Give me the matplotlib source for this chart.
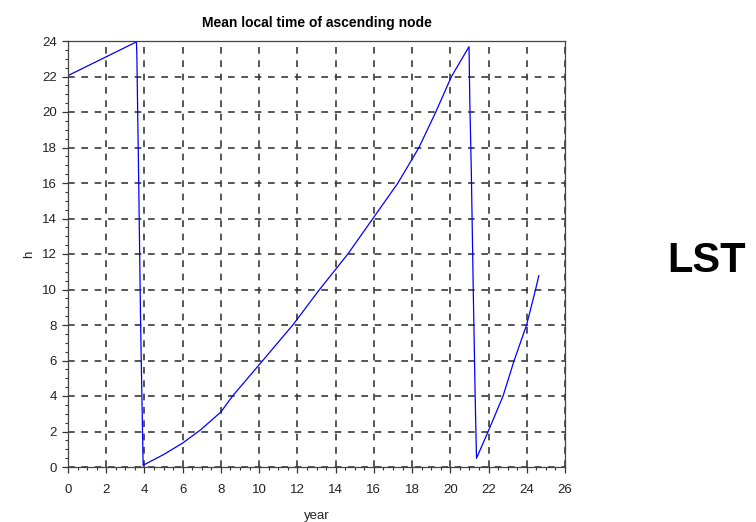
import numpy as np
import matplotlib
matplotlib.use("Agg")
from matplotlib import pyplot as plt
from matplotlib.ticker import MultipleLocator

# values (year, local time in hours)
year = [0.0, 3.58, 3.60, 3.70, 3.80, 3.93,
        5.0, 6.0, 6.92, 8.0, 8.61, 10.19, 11.76, 13.16, 14.64, 15.95,
        17.26, 18.36, 19.24, 20.06, 20.98,
        21.02, 21.10, 21.20, 21.30, 21.37,
        21.98, 22.76, 23.34, 23.99, 24.46, 24.63]
hours = [22.05, 23.95, 23.3, 16.0, 8.0, 0.1,
         0.7, 1.35, 2.08, 3.1, 4.0, 6.0, 8.0, 10.0, 12.0, 14.0,
         16.0, 18.0, 20.0, 22.0, 23.68,
         20.6, 16.6, 10.0, 4.0, 0.49,
         2.0, 4.0, 6.0, 8.0, 10.0, 10.78]

x_ticks = np.arange(0, 27, 2)
y_ticks = np.arange(0, 25, 2)

plt.rcParams['font.family'] = ['Liberation Sans', 'DejaVu Sans']

fig = plt.figure(figsize=(7.56, 5.22), dpi=100)
ax = fig.add_axes([68 / 756, 1 - 467 / 522, (565 - 68) / 756, (467 - 41) / 522])

ax.plot(year, hours, color='#0000ff', linewidth=0.9)

ax.set_xlim(0, 26)
ax.set_ylim(0, 24)
ax.set_xticks(x_ticks)
ax.set_yticks(y_ticks)
ax.xaxis.set_minor_locator(MultipleLocator(0.5))
ax.yaxis.set_minor_locator(MultipleLocator(0.5))
ax.tick_params(which='major', direction='out', length=4, width=0.9,
               color='#333333', labelsize=9.5, labelcolor='#222222', pad=4)
ax.tick_params(which='minor', direction='out', length=2.2, width=0.8,
               color='#333333')
ax.tick_params(axis='x', which='major', pad=8)

ax.grid(True, which='major', color='#3a3a3a', linestyle=(0, (4, 4)),
        linewidth=1.2)
ax.set_axisbelow(True)
for s in ax.spines.values():
    s.set_color('#444444')
    s.set_linewidth(0.9)

ax.set_title("Mean local time of ascending node", fontsize=10,
             fontweight='bold', pad=10)
ax.set_xlabel("year", fontsize=9.5, labelpad=10, color='#222222')
ax.set_ylabel("h", fontsize=9.5, labelpad=5, color='#222222')

fig.text(707 / 756, 1 - 261 / 522, "LST", fontsize=30, fontweight='bold',
         ha='center', va='center')

plt.savefig("out.png", dpi=100)
plt.close()
